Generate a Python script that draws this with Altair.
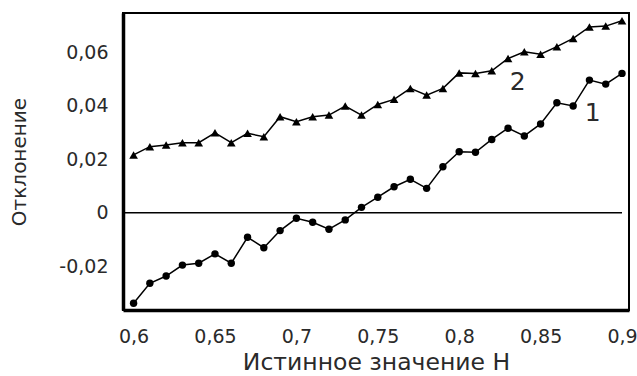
import altair as alt
import pandas as pd

# true H values (x)
h_values = [0.60, 0.61, 0.62, 0.63, 0.64, 0.65, 0.66, 0.67, 0.68, 0.69,
            0.70, 0.71, 0.72, 0.73, 0.74, 0.75, 0.76, 0.77, 0.78, 0.79,
            0.80, 0.81, 0.82, 0.83, 0.84, 0.85, 0.86, 0.87, 0.88, 0.89, 0.90]

# curve 1 (circles)
dev_1 = [-0.0339, -0.0264, -0.0237, -0.0196, -0.0189, -0.0154, -0.0189, -0.0092, -0.0131, -0.0067,
         -0.0021, -0.0036, -0.0062, -0.0027, 0.0020, 0.0058, 0.0097, 0.0125, 0.0091, 0.0172,
         0.0228, 0.0226, 0.0274, 0.0316, 0.0287, 0.0332, 0.0411, 0.0399, 0.0496, 0.0481, 0.0521]

# curve 2 (triangles)
dev_2 = [0.0216, 0.0247, 0.0253, 0.0262, 0.0262, 0.0299, 0.0262, 0.0297, 0.0284, 0.0359,
         0.0340, 0.0359, 0.0365, 0.0399, 0.0365, 0.0405, 0.0424, 0.0465, 0.0440, 0.0465,
         0.0523, 0.0521, 0.0531, 0.0577, 0.0602, 0.0593, 0.0621, 0.0652, 0.0695, 0.0698, 0.0718]

label_text = ["2", "1"]
label_x = [0.836, 0.882]
label_y = [0.049, 0.0372]

x_ticks = [0.6, 0.65, 0.7, 0.75, 0.8, 0.85, 0.9]
y_ticks = [-0.02, 0, 0.02, 0.04, 0.06]
x_domain = [0.5935, 0.9043]
y_domain = [-0.0364, 0.0747]

FONT = "DejaVu Sans"
TXT = "#2a2a2a"

df1 = pd.DataFrame({"h": h_values, "d": dev_1})
df2 = pd.DataFrame({"h": h_values, "d": dev_2})
zero_df = pd.DataFrame({"x1": [x_domain[0]], "x2": [0.9], "y": [0.0]})
lab_df = pd.DataFrame({"t": label_text, "x": label_x, "y": label_y})

fmt = "replace(replace(format(datum.value, '.2~f'), '.', ','), '\u2212', '-')"

xs = alt.Scale(domain=x_domain, nice=False, zero=False)
ys = alt.Scale(domain=y_domain, nice=False, zero=False)

x_axis = alt.Axis(values=x_ticks, labelExpr=fmt, title="Истинное значение Н",
                  grid=False, ticks=False, domainWidth=3.5, domainColor="black",
                  labelFont=FONT, labelFontSize=19, labelColor=TXT, labelPadding=17,
                  titleFont=FONT, titleFontSize=23.5, titleFontWeight="normal",
                  titleColor=TXT, titlePadding=4, labelFlush=False)
y_axis = alt.Axis(values=y_ticks, labelExpr=fmt, title="Отклонение",
                  grid=False, ticks=False, domainWidth=3.5, domainColor="black",
                  labelFont=FONT, labelFontSize=19, labelColor=TXT, labelPadding=15,
                  titleFont=FONT, titleFontSize=20, titleFontWeight="normal",
                  titleColor=TXT, titlePadding=29, labelFlush=False)

zero = alt.Chart(zero_df).mark_rule(color="black", strokeWidth=1.5).encode(
    x=alt.X("x1:Q", scale=xs, axis=x_axis),
    x2="x2:Q",
    y=alt.Y("y:Q", scale=ys, axis=y_axis),
)

line1 = alt.Chart(df1).mark_line(color="black", strokeWidth=1.5).encode(
    x=alt.X("h:Q", scale=xs), y=alt.Y("d:Q", scale=ys))
pts1 = alt.Chart(df1).mark_point(shape="circle", filled=True, color="black",
                                 size=55, opacity=1).encode(
    x=alt.X("h:Q", scale=xs), y=alt.Y("d:Q", scale=ys))

line2 = alt.Chart(df2).mark_line(color="black", strokeWidth=1.5).encode(
    x=alt.X("h:Q", scale=xs), y=alt.Y("d:Q", scale=ys))
pts2 = alt.Chart(df2).mark_point(shape="triangle-up", filled=True, color="black",
                                 size=75, opacity=1).encode(
    x=alt.X("h:Q", scale=xs), y=alt.Y("d:Q", scale=ys))

labels = alt.Chart(lab_df).mark_text(font=FONT, fontSize=25, color=TXT,
                                     align="center", baseline="middle").encode(
    x=alt.X("x:Q", scale=xs), y=alt.Y("y:Q", scale=ys), text="t:N")

chart = alt.layer(zero, line1, pts1, line2, pts2, labels).properties(
    width=506, height=297,
    autosize="none",
    padding={"left": 123, "top": 13, "right": 8, "bottom": 66},
).configure(background="white").configure_view(stroke="black", strokeWidth=2)

chart.save("out.html", embed_options={"renderer": "svg", "actions": False})
